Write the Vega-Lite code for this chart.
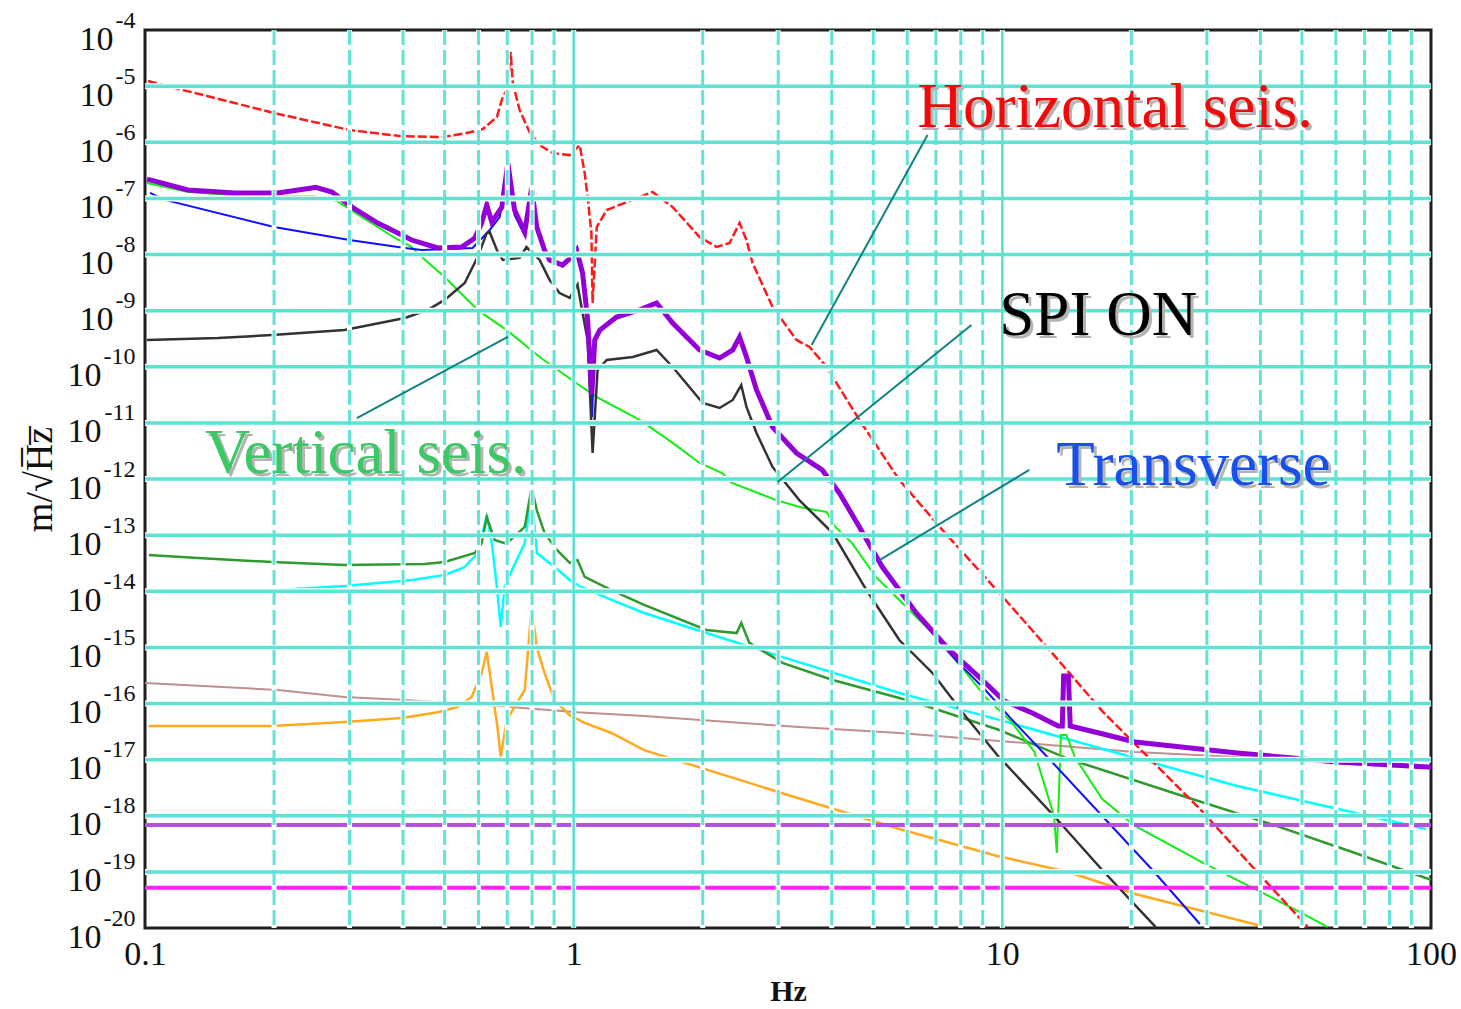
{
  "$schema": "https://vega.github.io/schema/vega-lite/v6.json",
  "width": 1286,
  "height": 898,
  "autosize": {"type": "none"},
  "padding": {"left": 145, "top": 30, "right": 30, "bottom": 81},
  "background": "white",
  "config": {
    "view": {"stroke": "#1e1e1e", "strokeWidth": 3},
    "axis": {"labelFont": "Liberation Serif", "titleFont": "Liberation Serif", "labelColor": "#111111", "titleColor": "#111111", "grid": false, "ticks": false, "domain": false, "labelOverlap": false, "labelBound": false, "labelFlush": false}
  },
  "datasets": {
    "curves": [
      {"s": "rosy", "f": 0.1, "v": 2.32e-16}, {"s": "rosy", "f": 0.204, "v": 1.74e-16}, {"s": "rosy", "f": 0.292, "v": 1.31e-16}, {"s": "rosy", "f": 0.404, "v": 1.15e-16}, {"s": "rosy", "f": 0.712, "v": 8.7e-17}, {"s": "rosy", "f": 1.021, "v": 7.0e-17}, {"s": "rosy", "f": 1.46, "v": 6.0e-17}, {"s": "rosy", "f": 3.36, "v": 3.8e-17}, {"s": "rosy", "f": 5.75, "v": 2.98e-17}, {"s": "rosy", "f": 9.84, "v": 2.15e-17}, {"s": "rosy", "f": 20.4, "v": 1.37e-17}, {"s": "rosy", "f": 35.3, "v": 1.11e-17}, {"s": "rosy", "f": 60.7, "v": 8.6e-18}, {"s": "rosy", "f": 100, "v": 7.0e-18},

      {"s": "orange", "f": 0.102, "v": 3.97e-17}, {"s": "orange", "f": 0.198, "v": 3.97e-17}, {"s": "orange", "f": 0.292, "v": 4.7e-17}, {"s": "orange", "f": 0.397, "v": 5.5e-17}, {"s": "orange", "f": 0.482, "v": 7.0e-17}, {"s": "orange", "f": 0.536, "v": 8.7e-17}, {"s": "orange", "f": 0.578, "v": 1.31e-16}, {"s": "orange", "f": 0.61, "v": 3.5e-16}, {"s": "orange", "f": 0.627, "v": 8.3e-16}, {"s": "orange", "f": 0.647, "v": 1.54e-16}, {"s": "orange", "f": 0.664, "v": 3.8e-17}, {"s": "orange", "f": 0.676, "v": 1.11e-17}, {"s": "orange", "f": 0.698, "v": 5.1e-17}, {"s": "orange", "f": 0.728, "v": 8.7e-17}, {"s": "orange", "f": 0.769, "v": 1.74e-16}, {"s": "orange", "f": 0.798, "v": 5.2e-15}, {"s": "orange", "f": 0.82, "v": 1.01e-15}, {"s": "orange", "f": 0.855, "v": 3.5e-16}, {"s": "orange", "f": 0.902, "v": 1.15e-16}, {"s": "orange", "f": 0.979, "v": 6.2e-17}, {"s": "orange", "f": 1.061, "v": 4.5e-17}, {"s": "orange", "f": 1.225, "v": 2.98e-17}, {"s": "orange", "f": 1.46, "v": 1.48e-17}, {"s": "orange", "f": 3.0, "v": 2.65e-18}, {"s": "orange", "f": 5.75, "v": 5.8e-19}, {"s": "orange", "f": 9.73, "v": 1.92e-19}, {"s": "orange", "f": 14.26, "v": 9.95e-20}, {"s": "orange", "f": 20.4, "v": 4.04e-20}, {"s": "orange", "f": 38.6, "v": 1.18e-20}, {"s": "orange", "f": 40.6, "v": 1.04e-20},

      {"s": "cyan", "f": 0.102, "v": 9.7e-15}, {"s": "cyan", "f": 0.204, "v": 1.05e-14}, {"s": "cyan", "f": 0.292, "v": 1.24e-14}, {"s": "cyan", "f": 0.419, "v": 1.59e-14}, {"s": "cyan", "f": 0.5, "v": 1.95e-14}, {"s": "cyan", "f": 0.557, "v": 2.7e-14}, {"s": "cyan", "f": 0.597, "v": 4.8e-14}, {"s": "cyan", "f": 0.613, "v": 1.09e-13}, {"s": "cyan", "f": 0.627, "v": 2.29e-13}, {"s": "cyan", "f": 0.644, "v": 7.2e-14}, {"s": "cyan", "f": 0.662, "v": 1.19e-14}, {"s": "cyan", "f": 0.676, "v": 2.3e-15}, {"s": "cyan", "f": 0.69, "v": 1.19e-14}, {"s": "cyan", "f": 0.712, "v": 2.1e-14}, {"s": "cyan", "f": 0.769, "v": 7.2e-14}, {"s": "cyan", "f": 0.798, "v": 5.6e-13}, {"s": "cyan", "f": 0.821, "v": 4.8e-14}, {"s": "cyan", "f": 0.902, "v": 2.7e-14}, {"s": "cyan", "f": 0.979, "v": 1.59e-14}, {"s": "cyan", "f": 1.04, "v": 1.19e-14}, {"s": "cyan", "f": 1.225, "v": 7.0e-15}, {"s": "cyan", "f": 1.46, "v": 4.1e-15}, {"s": "cyan", "f": 2.04, "v": 1.8e-15}, {"s": "cyan", "f": 3.07, "v": 6.7e-16}, {"s": "cyan", "f": 5.75, "v": 1.54e-16}, {"s": "cyan", "f": 9.84, "v": 5.1e-17}, {"s": "cyan", "f": 20.4, "v": 1.07e-17}, {"s": "cyan", "f": 35.3, "v": 3.4e-18}, {"s": "cyan", "f": 60.7, "v": 1.32e-18}, {"s": "cyan", "f": 97.3, "v": 5.8e-19},

      {"s": "dgreen", "f": 0.1021, "v": 4.43e-14}, {"s": "dgreen", "f": 0.1329, "v": 3.9e-14}, {"s": "dgreen", "f": 0.198, "v": 3.32e-14}, {"s": "dgreen", "f": 0.292, "v": 2.94e-14}, {"s": "dgreen", "f": 0.449, "v": 3.06e-14}, {"s": "dgreen", "f": 0.5, "v": 3.32e-14}, {"s": "dgreen", "f": 0.588, "v": 4.81e-14}, {"s": "dgreen", "f": 0.61, "v": 7.2e-14}, {"s": "dgreen", "f": 0.627, "v": 2.1e-13}, {"s": "dgreen", "f": 0.654, "v": 8.2e-14}, {"s": "dgreen", "f": 0.69, "v": 7.2e-14}, {"s": "dgreen", "f": 0.712, "v": 8.2e-14}, {"s": "dgreen", "f": 0.769, "v": 1.4e-13}, {"s": "dgreen", "f": 0.798, "v": 7.2e-13}, {"s": "dgreen", "f": 0.82, "v": 2.8e-13}, {"s": "dgreen", "f": 0.855, "v": 1.09e-13}, {"s": "dgreen", "f": 0.915, "v": 5.4e-14}, {"s": "dgreen", "f": 0.979, "v": 3.2e-14}, {"s": "dgreen", "f": 1.021, "v": 3.6e-14}, {"s": "dgreen", "f": 1.061, "v": 1.8e-14}, {"s": "dgreen", "f": 1.225, "v": 1.05e-14}, {"s": "dgreen", "f": 1.46, "v": 5.7e-15}, {"s": "dgreen", "f": 2.04, "v": 2.04e-15}, {"s": "dgreen", "f": 2.4, "v": 1.8e-15}, {"s": "dgreen", "f": 2.46, "v": 2.72e-15}, {"s": "dgreen", "f": 2.57, "v": 1.2e-15}, {"s": "dgreen", "f": 3.07, "v": 5.3e-16}, {"s": "dgreen", "f": 4.02, "v": 2.62e-16}, {"s": "dgreen", "f": 5.75, "v": 1.25e-16}, {"s": "dgreen", "f": 6.87, "v": 8.3e-17}, {"s": "dgreen", "f": 9.84, "v": 3.37e-17}, {"s": "dgreen", "f": 14.26, "v": 1.03e-17}, {"s": "dgreen", "f": 26.8, "v": 2.16e-18}, {"s": "dgreen", "f": 42.4, "v": 7.1e-19}, {"s": "dgreen", "f": 66.5, "v": 2.17e-19}, {"s": "dgreen", "f": 100, "v": 7.2e-20},

      {"s": "green", "f": 0.101, "v": 1.88e-7}, {"s": "green", "f": 0.126, "v": 1.3e-7}, {"s": "green", "f": 0.171, "v": 1.1e-7}, {"s": "green", "f": 0.2, "v": 1.08e-7}, {"s": "green", "f": 0.245, "v": 1.1e-7}, {"s": "green", "f": 0.28, "v": 9.0e-8}, {"s": "green", "f": 0.32, "v": 4.66e-8}, {"s": "green", "f": 0.383, "v": 1.97e-8}, {"s": "green", "f": 0.419, "v": 1.36e-8}, {"s": "green", "f": 0.442, "v": 9.0e-9}, {"s": "green", "f": 0.5, "v": 3.97e-9}, {"s": "green", "f": 0.597, "v": 1.03e-9}, {"s": "green", "f": 0.698, "v": 4.5e-10}, {"s": "green", "f": 0.833, "v": 1.49e-10}, {"s": "green", "f": 0.99, "v": 5.8e-11}, {"s": "green", "f": 1.13, "v": 2.89e-11}, {"s": "green", "f": 1.425, "v": 1.13e-11}, {"s": "green", "f": 1.702, "v": 4.4e-12}, {"s": "green", "f": 1.966, "v": 1.93e-12}, {"s": "green", "f": 2.22, "v": 1.28e-12}, {"s": "green", "f": 2.34, "v": 8.5e-13}, {"s": "green", "f": 2.97, "v": 4.2e-13}, {"s": "green", "f": 3.36, "v": 3.17e-13}, {"s": "green", "f": 3.89, "v": 2.58e-13}, {"s": "green", "f": 4.08, "v": 1.4e-13}, {"s": "green", "f": 4.46, "v": 7.2e-14}, {"s": "green", "f": 5.07, "v": 1.8e-14}, {"s": "green", "f": 5.75, "v": 7.0e-15}, {"s": "green", "f": 6.87, "v": 1.8e-15}, {"s": "green", "f": 8.24, "v": 3.5e-16}, {"s": "green", "f": 9.17, "v": 1.25e-16}, {"s": "green", "f": 10.45, "v": 4.9e-17}, {"s": "green", "f": 11.88, "v": 1.37e-17}, {"s": "green", "f": 13.2, "v": 9.9e-19}, {"s": "green", "f": 13.4, "v": 2.17e-19}, {"s": "green", "f": 13.7, "v": 2.75e-17}, {"s": "green", "f": 14.1, "v": 2.75e-17}, {"s": "green", "f": 14.8, "v": 1.07e-17}, {"s": "green", "f": 17.1, "v": 1.99e-18}, {"s": "green", "f": 20.4, "v": 6.6e-19}, {"s": "green", "f": 29.4, "v": 1.44e-19}, {"s": "green", "f": 39.3, "v": 4.75e-20}, {"s": "green", "f": 50.5, "v": 1.77e-20}, {"s": "green", "f": 57.4, "v": 1.04e-20},

      {"s": "blue", "f": 0.1027, "v": 1.25e-7}, {"s": "blue", "f": 0.1113, "v": 9.4e-8}, {"s": "blue", "f": 0.2, "v": 3.1e-8}, {"s": "blue", "f": 0.3, "v": 1.81e-8}, {"s": "blue", "f": 0.404, "v": 1.31e-8}, {"s": "blue", "f": 0.442, "v": 1.2e-8}, {"s": "blue", "f": 0.581, "v": 1.31e-8}, {"s": "blue", "f": 0.637, "v": 2.73e-8}, {"s": "blue", "f": 0.672, "v": 4.66e-8}, {"s": "blue", "f": 0.702, "v": 3.0e-7}, {"s": "blue", "f": 0.728, "v": 5.0e-8}, {"s": "blue", "f": 0.769, "v": 2.2e-8}, {"s": "blue", "f": 0.798, "v": 1.2e-7}, {"s": "blue", "f": 0.82, "v": 2.8e-8}, {"s": "blue", "f": 0.855, "v": 1.1e-8}, {"s": "blue", "f": 0.879, "v": 7.5e-9}, {"s": "blue", "f": 0.942, "v": 6.2e-9}, {"s": "blue", "f": 0.989, "v": 8.5e-9}, {"s": "blue", "f": 1.016, "v": 1.1e-8}, {"s": "blue", "f": 1.049, "v": 4.3e-9}, {"s": "blue", "f": 1.078, "v": 6.0e-10}, {"s": "blue", "f": 1.104, "v": 1.27e-11}, {"s": "blue", "f": 1.12, "v": 2.9e-10}, {"s": "blue", "f": 1.151, "v": 4.4e-10}, {"s": "blue", "f": 1.259, "v": 7.5e-10}, {"s": "blue", "f": 1.425, "v": 1.0e-9}, {"s": "blue", "f": 1.561, "v": 1.33e-9}, {"s": "blue", "f": 1.702, "v": 5.8e-10}, {"s": "blue", "f": 1.966, "v": 1.93e-10}, {"s": "blue", "f": 2.19, "v": 1.39e-10}, {"s": "blue", "f": 2.35, "v": 1.93e-10}, {"s": "blue", "f": 2.438, "v": 3.3e-10}, {"s": "blue", "f": 2.53, "v": 1.45e-10}, {"s": "blue", "f": 2.67, "v": 3.75e-11}, {"s": "blue", "f": 2.911, "v": 8.2e-12}, {"s": "blue", "f": 3.31, "v": 2.8e-12}, {"s": "blue", "f": 3.8, "v": 1.4e-12}, {"s": "blue", "f": 4.17, "v": 5.4e-13}, {"s": "blue", "f": 4.64, "v": 1.35e-13}, {"s": "blue", "f": 5.25, "v": 2.6e-14}, {"s": "blue", "f": 6.3, "v": 3.9e-15}, {"s": "blue", "f": 7.52, "v": 8.0e-16}, {"s": "blue", "f": 8.07, "v": 4.5e-16}, {"s": "blue", "f": 9.04, "v": 1.89e-16}, {"s": "blue", "f": 10.45, "v": 5.5e-17}, {"s": "blue", "f": 12.8, "v": 1.07e-17}, {"s": "blue", "f": 17.1, "v": 9.9e-19}, {"s": "blue", "f": 22.4, "v": 1.08e-19}, {"s": "blue", "f": 28.9, "v": 1.18e-20},

      {"s": "black", "f": 0.101, "v": 3.0e-10}, {"s": "black", "f": 0.148, "v": 3.25e-10}, {"s": "black", "f": 0.198, "v": 3.68e-10}, {"s": "black", "f": 0.292, "v": 4.5e-10}, {"s": "black", "f": 0.404, "v": 7.4e-10}, {"s": "black", "f": 0.457, "v": 1.03e-9}, {"s": "black", "f": 0.5, "v": 1.55e-9}, {"s": "black", "f": 0.557, "v": 3.1e-9}, {"s": "black", "f": 0.597, "v": 9.0e-9}, {"s": "black", "f": 0.627, "v": 2.4e-8}, {"s": "black", "f": 0.637, "v": 2.5e-8}, {"s": "black", "f": 0.662, "v": 1.2e-8}, {"s": "black", "f": 0.683, "v": 8.0e-9}, {"s": "black", "f": 0.748, "v": 8.7e-9}, {"s": "black", "f": 0.776, "v": 1.36e-8}, {"s": "black", "f": 0.833, "v": 8.0e-9}, {"s": "black", "f": 0.879, "v": 3.5e-9}, {"s": "black", "f": 0.927, "v": 2.06e-9}, {"s": "black", "f": 0.979, "v": 1.68e-9}, {"s": "black", "f": 1.021, "v": 2.9e-9}, {"s": "black", "f": 1.049, "v": 9.1e-10}, {"s": "black", "f": 1.078, "v": 3.0e-10}, {"s": "black", "f": 1.107, "v": 2.9e-12}, {"s": "black", "f": 1.137, "v": 8.7e-11}, {"s": "black", "f": 1.194, "v": 1.32e-10}, {"s": "black", "f": 1.374, "v": 1.49e-10}, {"s": "black", "f": 1.561, "v": 1.99e-10}, {"s": "black", "f": 1.702, "v": 9.9e-11}, {"s": "black", "f": 2.0, "v": 2.26e-11}, {"s": "black", "f": 2.19, "v": 1.84e-11}, {"s": "black", "f": 2.35, "v": 2.56e-11}, {"s": "black", "f": 2.46, "v": 4.7e-11}, {"s": "black", "f": 2.53, "v": 1.92e-11}, {"s": "black", "f": 2.67, "v": 6.6e-12}, {"s": "black", "f": 2.91, "v": 1.64e-12}, {"s": "black", "f": 3.36, "v": 4.2e-13}, {"s": "black", "f": 4.02, "v": 1.09e-13}, {"s": "black", "f": 4.82, "v": 1.05e-14}, {"s": "black", "f": 5.75, "v": 1.35e-15}, {"s": "black", "f": 6.87, "v": 3.5e-16}, {"s": "black", "f": 8.24, "v": 5.7e-17}, {"s": "black", "f": 9.73, "v": 1.21e-17}, {"s": "black", "f": 13.2, "v": 9.9e-19}, {"s": "black", "f": 17.1, "v": 1.08e-19}, {"s": "black", "f": 22.8, "v": 1.04e-20},

      {"s": "red", "f": 0.1016, "v": 1.23e-5}, {"s": "red", "f": 0.2, "v": 3.32e-6}, {"s": "red", "f": 0.3, "v": 1.65e-6}, {"s": "red", "f": 0.393, "v": 1.29e-6}, {"s": "red", "f": 0.495, "v": 1.24e-6}, {"s": "red", "f": 0.563, "v": 1.46e-6}, {"s": "red", "f": 0.614, "v": 1.72e-6}, {"s": "red", "f": 0.662, "v": 2.82e-6}, {"s": "red", "f": 0.683, "v": 6.4e-6}, {"s": "red", "f": 0.698, "v": 8.5e-6}, {"s": "red", "f": 0.709, "v": 2.5e-5}, {"s": "red", "f": 0.713, "v": 4.06e-5}, {"s": "red", "f": 0.721, "v": 1.14e-5}, {"s": "red", "f": 0.748, "v": 3.76e-6}, {"s": "red", "f": 0.789, "v": 1.52e-6}, {"s": "red", "f": 0.833, "v": 8.9e-7}, {"s": "red", "f": 0.893, "v": 6.4e-7}, {"s": "red", "f": 0.979, "v": 5.9e-7}, {"s": "red", "f": 1.033, "v": 8.9e-7}, {"s": "red", "f": 1.061, "v": 2.83e-7}, {"s": "red", "f": 1.078, "v": 1.06e-7}, {"s": "red", "f": 1.1, "v": 2.4e-8}, {"s": "red", "f": 1.107, "v": 1.37e-9}, {"s": "red", "f": 1.132, "v": 3.09e-8}, {"s": "red", "f": 1.194, "v": 6.2e-8}, {"s": "red", "f": 1.33, "v": 8.6e-8}, {"s": "red", "f": 1.528, "v": 1.3e-7}, {"s": "red", "f": 1.702, "v": 7.0e-8}, {"s": "red", "f": 1.966, "v": 2.05e-8}, {"s": "red", "f": 2.154, "v": 1.36e-8}, {"s": "red", "f": 2.311, "v": 1.6e-8}, {"s": "red", "f": 2.438, "v": 3.64e-8}, {"s": "red", "f": 2.53, "v": 1.81e-8}, {"s": "red", "f": 2.613, "v": 7.1e-9}, {"s": "red", "f": 2.911, "v": 1.16e-9}, {"s": "red", "f": 3.31, "v": 3.0e-10}, {"s": "red", "f": 3.55, "v": 2.25e-10}, {"s": "red", "f": 3.89, "v": 9.9e-11}, {"s": "red", "f": 4.64, "v": 1.13e-11}, {"s": "red", "f": 5.75, "v": 9.6e-13}, {"s": "red", "f": 7.25, "v": 1.23e-13}, {"s": "red", "f": 9.84, "v": 9.3e-15}, {"s": "red", "f": 12.88, "v": 9.0e-16}, {"s": "red", "f": 17.1, "v": 7.3e-17}, {"s": "red", "f": 28.9, "v": 1.32e-18}, {"s": "red", "f": 39.3, "v": 9.95e-20}, {"s": "red", "f": 51.6, "v": 1.04e-20},

      {"s": "purple", "f": 0.1011, "v": 2.21e-7}, {"s": "purple", "f": 0.126, "v": 1.41e-7}, {"s": "purple", "f": 0.162, "v": 1.25e-7}, {"s": "purple", "f": 0.204, "v": 1.25e-7}, {"s": "purple", "f": 0.245, "v": 1.53e-7}, {"s": "purple", "f": 0.25, "v": 1.58e-7}, {"s": "purple", "f": 0.273, "v": 1.3e-7}, {"s": "purple", "f": 0.304, "v": 7.0e-8}, {"s": "purple", "f": 0.349, "v": 3.64e-8}, {"s": "purple", "f": 0.419, "v": 1.81e-8}, {"s": "purple", "f": 0.482, "v": 1.31e-8}, {"s": "purple", "f": 0.548, "v": 1.36e-8}, {"s": "purple", "f": 0.588, "v": 1.97e-8}, {"s": "purple", "f": 0.61, "v": 3.64e-8}, {"s": "purple", "f": 0.627, "v": 7.6e-8}, {"s": "purple", "f": 0.644, "v": 3.8e-8}, {"s": "purple", "f": 0.68, "v": 7.0e-8}, {"s": "purple", "f": 0.702, "v": 4.27e-7}, {"s": "purple", "f": 0.728, "v": 6.2e-8}, {"s": "purple", "f": 0.769, "v": 2.52e-8}, {"s": "purple", "f": 0.798, "v": 1.53e-7}, {"s": "purple", "f": 0.82, "v": 3.09e-8}, {"s": "purple", "f": 0.855, "v": 1.2e-8}, {"s": "purple", "f": 0.879, "v": 7.97e-9}, {"s": "purple", "f": 0.942, "v": 6.5e-9}, {"s": "purple", "f": 0.989, "v": 9.0e-9}, {"s": "purple", "f": 1.016, "v": 1.2e-8}, {"s": "purple", "f": 1.049, "v": 4.68e-9}, {"s": "purple", "f": 1.078, "v": 6.8e-10}, {"s": "purple", "f": 1.102, "v": 3.14e-11}, {"s": "purple", "f": 1.12, "v": 3.0e-10}, {"s": "purple", "f": 1.151, "v": 4.5e-10}, {"s": "purple", "f": 1.259, "v": 7.7e-10}, {"s": "purple", "f": 1.425, "v": 1.03e-9}, {"s": "purple", "f": 1.561, "v": 1.37e-9}, {"s": "purple", "f": 1.702, "v": 6.0e-10}, {"s": "purple", "f": 1.966, "v": 1.99e-10}, {"s": "purple", "f": 2.19, "v": 1.43e-10}, {"s": "purple", "f": 2.35, "v": 1.99e-10}, {"s": "purple", "f": 2.438, "v": 3.39e-10}, {"s": "purple", "f": 2.53, "v": 1.49e-10}, {"s": "purple", "f": 2.67, "v": 3.86e-11}, {"s": "purple", "f": 2.911, "v": 8.4e-12}, {"s": "purple", "f": 3.31, "v": 2.9e-12}, {"s": "purple", "f": 3.8, "v": 1.45e-12}, {"s": "purple", "f": 4.17, "v": 5.6e-13}, {"s": "purple", "f": 4.64, "v": 1.4e-13}, {"s": "purple", "f": 5.25, "v": 2.7e-14}, {"s": "purple", "f": 6.3, "v": 4.1e-15}, {"s": "purple", "f": 7.52, "v": 9.0e-16}, {"s": "purple", "f": 8.98, "v": 2.62e-16}, {"s": "purple", "f": 10.1, "v": 1.11e-16}, {"s": "purple", "f": 11.75, "v": 6.8e-17}, {"s": "purple", "f": 13.5, "v": 3.97e-17}, {"s": "purple", "f": 13.8, "v": 3.97e-17}, {"s": "purple", "f": 13.9, "v": 3.09e-16}, {"s": "purple", "f": 14.26, "v": 3.09e-16}, {"s": "purple", "f": 14.4, "v": 3.97e-17}, {"s": "purple", "f": 16.8, "v": 2.98e-17}, {"s": "purple", "f": 20.4, "v": 2.06e-17}, {"s": "purple", "f": 35.3, "v": 1.31e-17}, {"s": "purple", "f": 60.7, "v": 9.1e-18}, {"s": "purple", "f": 98.4, "v": 7.4e-18}, {"s": "purple", "f": 100, "v": 7.3e-18}
    ],
    "flat": [{"n": "a", "v": 6.84e-19}, {"n": "b", "v": 5.2e-20}],
    "hgrid": [{"v": 1e-19}, {"v": 1e-18}, {"v": 1e-17}, {"v": 1e-16}, {"v": 1e-15}, {"v": 1e-14}, {"v": 1e-13}, {"v": 1e-12}, {"v": 1e-11}, {"v": 1e-10}, {"v": 1e-9}, {"v": 1e-8}, {"v": 1e-7}, {"v": 1e-6}, {"v": 1e-5}],
    "vgrid": [
      {"f": 0.2, "k": "d"}, {"f": 0.3, "k": "d"}, {"f": 0.4, "k": "d"}, {"f": 0.5, "k": "d"}, {"f": 0.6, "k": "d"}, {"f": 0.7, "k": "d"}, {"f": 0.8, "k": "d"}, {"f": 0.9, "k": "d"},
      {"f": 1, "k": "s"},
      {"f": 2, "k": "d"}, {"f": 3, "k": "d"}, {"f": 4, "k": "d"}, {"f": 5, "k": "d"}, {"f": 6, "k": "d"}, {"f": 7, "k": "d"}, {"f": 8, "k": "d"}, {"f": 9, "k": "d"},
      {"f": 10, "k": "s"},
      {"f": 20, "k": "d"}, {"f": 30, "k": "d"}, {"f": 40, "k": "d"}, {"f": 50, "k": "d"}, {"f": 60, "k": "d"}, {"f": 70, "k": "d"}, {"f": 80, "k": "d"}, {"f": 90, "k": "d"}
    ],
    "leaders": [
      {"f": 6.69, "v": 1.35e-6, "f2": 3.59, "v2": 2.44e-10},
      {"f": 8.47, "v": 5.55e-10, "f2": 2.99, "v2": 8.85e-13},
      {"f": 0.312, "v": 1.22e-11, "f2": 0.702, "v2": 3.39e-10},
      {"f": 11.56, "v": 1.45e-12, "f2": 5.17, "v2": 3.6e-14}
    ],
    "notes": [
      {"t": "Horizontal seis.", "f": 6.34, "v": 1.87e-6},
      {"t": "SPI ON", "f": 9.84, "v": 3.68e-10},
      {"t": "Vertical seis.", "f": 0.138, "v": 1.28e-12},
      {"t": "Transverse", "f": 13.36, "v": 7.8e-13}
    ]
  },
  "layer": [
    {
      "resolve": {"scale": {"color": "independent"}},
      "layer": [
        {
          "data": {"name": "curves"},
          "transform": [{"filter": "datum.s === 'rosy'"}],
          "mark": {"type": "line", "color": "#c09090", "strokeWidth": 2, "clip": true},
          "encoding": {
            "x": {"field": "f", "type": "quantitative", "scale": {"type": "log", "domain": [0.1, 100], "nice": false},
              "axis": {"values": [0.1, 1, 10, 100], "labelExpr": "datum.value < 0.5 ? '0.1' : format(datum.value, 'd')", "labelFontSize": 34, "labelBaseline": "middle", "labelPadding": 26, "title": "Hz", "titleFontSize": 30, "titleFontWeight": "bold", "titleX": 643, "titleY": 63, "titleBaseline": "middle", "titleAlign": "center"}},
            "y": {"field": "v", "type": "quantitative", "scale": {"type": "log", "domain": [1e-20, 1e-4], "nice": false},
              "axis": {"values": [1e-9, 1e-8, 1e-7, 1e-6, 1e-5, 1e-4], "labelExpr": "'10'", "labelFontSize": 34, "labelOffset": 9, "labelPadding": 32, "labelAlign": "right", "labelBaseline": "middle",
                "title": "m/√H̅z̅", "titleFontSize": 38, "titleFontWeight": "normal", "titleX": -105, "titleY": 449, "titleAngle": -90, "titleBaseline": "middle", "titleAlign": "center"}}
          }
        },
        {"data": {"name": "curves"}, "transform": [{"filter": "datum.s === 'orange'"}], "mark": {"type": "line", "color": "#ffaa1e", "strokeWidth": 2.5, "clip": true},
          "encoding": {"x": {"field": "f", "type": "quantitative", "scale": {"type": "log", "domain": [0.1, 100], "nice": false}}, "y": {"field": "v", "type": "quantitative", "scale": {"type": "log", "domain": [1e-20, 1e-4], "nice": false}}}},
        {"data": {"name": "curves"}, "transform": [{"filter": "datum.s === 'cyan'"}], "mark": {"type": "line", "color": "#00ffff", "strokeWidth": 2.5, "clip": true},
          "encoding": {"x": {"field": "f", "type": "quantitative", "scale": {"type": "log", "domain": [0.1, 100], "nice": false}}, "y": {"field": "v", "type": "quantitative", "scale": {"type": "log", "domain": [1e-20, 1e-4], "nice": false}}}},
        {"data": {"name": "curves"}, "transform": [{"filter": "datum.s === 'dgreen'"}], "mark": {"type": "line", "color": "#2f9a2f", "strokeWidth": 2.5, "clip": true},
          "encoding": {"x": {"field": "f", "type": "quantitative", "scale": {"type": "log", "domain": [0.1, 100], "nice": false}}, "y": {"field": "v", "type": "quantitative", "scale": {"type": "log", "domain": [1e-20, 1e-4], "nice": false}}}},
        {"data": {"name": "curves"}, "transform": [{"filter": "datum.s === 'green'"}], "mark": {"type": "line", "color": "#11ee11", "strokeWidth": 2, "clip": true},
          "encoding": {"x": {"field": "f", "type": "quantitative", "scale": {"type": "log", "domain": [0.1, 100], "nice": false}}, "y": {"field": "v", "type": "quantitative", "scale": {"type": "log", "domain": [1e-20, 1e-4], "nice": false}}}},
        {"data": {"name": "curves"}, "transform": [{"filter": "datum.s === 'blue'"}], "mark": {"type": "line", "color": "#1010ff", "strokeWidth": 2, "clip": true},
          "encoding": {"x": {"field": "f", "type": "quantitative", "scale": {"type": "log", "domain": [0.1, 100], "nice": false}}, "y": {"field": "v", "type": "quantitative", "scale": {"type": "log", "domain": [1e-20, 1e-4], "nice": false}}}},
        {"data": {"name": "curves"}, "transform": [{"filter": "datum.s === 'black'"}], "mark": {"type": "line", "color": "#333333", "strokeWidth": 2.5, "clip": true},
          "encoding": {"x": {"field": "f", "type": "quantitative", "scale": {"type": "log", "domain": [0.1, 100], "nice": false}}, "y": {"field": "v", "type": "quantitative", "scale": {"type": "log", "domain": [1e-20, 1e-4], "nice": false}}}},
        {"data": {"name": "curves"}, "transform": [{"filter": "datum.s === 'red'"}], "mark": {"type": "line", "color": "#ff1a1a", "strokeWidth": 2.5, "strokeDash": [9, 3], "clip": true},
          "encoding": {"x": {"field": "f", "type": "quantitative", "scale": {"type": "log", "domain": [0.1, 100], "nice": false}}, "y": {"field": "v", "type": "quantitative", "scale": {"type": "log", "domain": [1e-20, 1e-4], "nice": false}}}},
        {"data": {"name": "curves"}, "transform": [{"filter": "datum.s === 'purple'"}], "mark": {"type": "line", "color": "#9400d8", "strokeWidth": 5, "clip": true},
          "encoding": {"x": {"field": "f", "type": "quantitative", "scale": {"type": "log", "domain": [0.1, 100], "nice": false}}, "y": {"field": "v", "type": "quantitative", "scale": {"type": "log", "domain": [1e-20, 1e-4], "nice": false}}}},
        {"data": {"name": "flat"}, "transform": [{"filter": "datum.n === 'a'"}], "mark": {"type": "rule", "strokeWidth": 4, "color": "#b452e0"},
          "encoding": {"y": {"field": "v", "type": "quantitative", "scale": {"type": "log", "domain": [1e-20, 1e-4], "nice": false}}}},
        {"data": {"name": "flat"}, "transform": [{"filter": "datum.n === 'b'"}], "mark": {"type": "rule", "strokeWidth": 4, "color": "#ff22ff"},
          "encoding": {"y": {"field": "v", "type": "quantitative", "scale": {"type": "log", "domain": [1e-20, 1e-4], "nice": false}}}},
        {"data": {"name": "vgrid"}, "mark": {"type": "rule", "color": "white", "strokeWidth": 5},
          "encoding": {"x": {"field": "f", "type": "quantitative", "scale": {"type": "log", "domain": [0.1, 100], "nice": false}}}},
        {"data": {"name": "hgrid"}, "mark": {"type": "rule", "color": "white", "strokeWidth": 6},
          "encoding": {"y": {"field": "v", "type": "quantitative", "scale": {"type": "log", "domain": [1e-20, 1e-4], "nice": false}}}},
        {"data": {"name": "vgrid"}, "transform": [{"filter": "datum.k === 'd'"}], "mark": {"type": "rule", "color": "#62e3d6", "strokeWidth": 3, "strokeDash": [15, 5]},
          "encoding": {"x": {"field": "f", "type": "quantitative", "scale": {"type": "log", "domain": [0.1, 100], "nice": false}}}},
        {"data": {"name": "vgrid"}, "transform": [{"filter": "datum.k === 's'"}], "mark": {"type": "rule", "color": "#55e0d2", "strokeWidth": 2.5},
          "encoding": {"x": {"field": "f", "type": "quantitative", "scale": {"type": "log", "domain": [0.1, 100], "nice": false}}}},
        {"data": {"name": "hgrid"}, "mark": {"type": "rule", "color": "#5ee2d4", "strokeWidth": 3.5},
          "encoding": {"y": {"field": "v", "type": "quantitative", "scale": {"type": "log", "domain": [1e-20, 1e-4], "nice": false}}}},
        {"data": {"name": "leaders"}, "mark": {"type": "rule", "color": "#0f8282", "strokeWidth": 2},
          "encoding": {"x": {"field": "f", "type": "quantitative", "scale": {"type": "log", "domain": [0.1, 100], "nice": false}}, "y": {"field": "v", "type": "quantitative", "scale": {"type": "log", "domain": [1e-20, 1e-4], "nice": false}}, "x2": {"field": "f2"}, "y2": {"field": "v2"}}},
        {"data": {"name": "notes"}, "mark": {"type": "text", "font": "Liberation Serif", "fontSize": 63, "align": "left", "baseline": "alphabetic", "dx": 3, "dy": 3, "color": "#b4b4b4"},
          "encoding": {"x": {"field": "f", "type": "quantitative", "scale": {"type": "log", "domain": [0.1, 100], "nice": false}}, "y": {"field": "v", "type": "quantitative", "scale": {"type": "log", "domain": [1e-20, 1e-4], "nice": false}}, "text": {"field": "t"}}},
        {"data": {"name": "notes"}, "mark": {"type": "text", "font": "Liberation Serif", "fontSize": 63, "align": "left", "baseline": "alphabetic"},
          "encoding": {"x": {"field": "f", "type": "quantitative", "scale": {"type": "log", "domain": [0.1, 100], "nice": false}}, "y": {"field": "v", "type": "quantitative", "scale": {"type": "log", "domain": [1e-20, 1e-4], "nice": false}}, "text": {"field": "t"},
            "color": {"field": "t", "type": "nominal", "scale": {"domain": ["Horizontal seis.", "SPI ON", "Vertical seis.", "Transverse"], "range": ["#f00a0a", "#000000", "#3cc864", "#1a4fe8"]}, "legend": null}}}
      ]
    },
    {
      "data": {"name": "hgrid"},
      "mark": {"type": "rule", "opacity": 0},
      "encoding": {
        "y": {"field": "v", "type": "quantitative", "scale": {"type": "log", "domain": [1e-20, 1e-4], "nice": false},
          "axis": {"orient": "left", "values": [1e-20, 1e-19, 1e-18, 1e-17, 1e-16, 1e-15, 1e-14, 1e-13, 1e-12, 1e-11, 1e-10], "labelExpr": "'10'", "labelFontSize": 34, "labelOffset": 9, "labelPadding": 44, "labelAlign": "right", "labelBaseline": "middle", "title": null}}
      }
    },
    {
      "data": {"name": "hgrid"},
      "mark": {"type": "rule", "opacity": 0},
      "encoding": {
        "y": {"field": "v", "type": "quantitative", "scale": {"type": "log", "domain": [1e-20, 1e-4], "nice": false},
          "axis": {"orient": "left", "values": [1e-20, 1e-19, 1e-18, 1e-17, 1e-16, 1e-15, 1e-14, 1e-13, 1e-12, 1e-11, 1e-10, 1e-9, 1e-8, 1e-7, 1e-6, 1e-5, 1e-4], "labelExpr": "'-' + round(-log(datum.value) / LN10)", "labelFontSize": 24, "labelOffset": -10, "labelPadding": 10, "labelAlign": "right", "labelBaseline": "middle", "title": null}}
      }
    }
  ],
  "resolve": {"axis": {"y": "independent"}}
}
